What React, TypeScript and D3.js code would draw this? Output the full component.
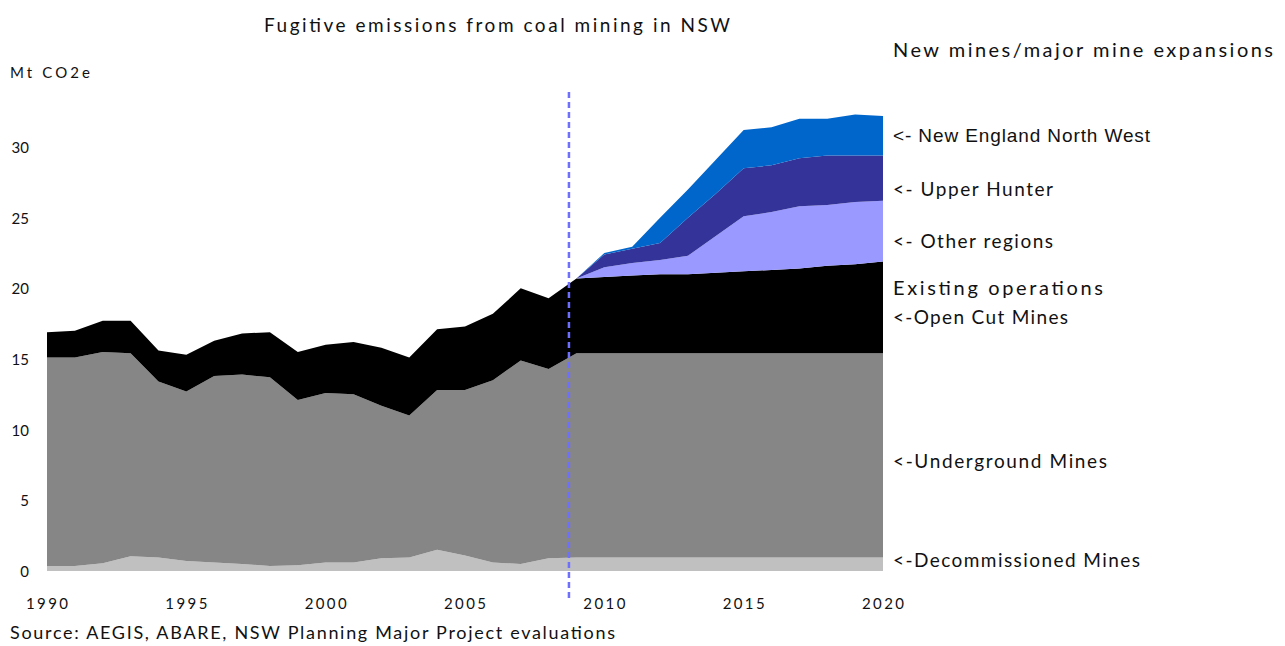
import React from "react";
import * as d3 from "d3";

const years = [1990,1991,1992,1993,1994,1995,1996,1997,1998,1999,2000,2001,2002,2003,2004,2005,2006,2007,2008,2009,2010,2011,2012,2013,2014,2015,2016,2017,2018,2019,2020];
const decommissioned = [0.35,0.35,0.55,1.05,0.95,0.7,0.6,0.5,0.35,0.4,0.6,0.6,0.9,0.95,1.5,1.1,0.6,0.5,0.9,0.95,0.95,0.95,0.95,0.95,0.95,0.95,0.95,0.95,0.95,0.95,0.95];
const underground = [14.75,14.75,14.95,14.35,12.45,12.0,13.2,13.4,13.35,11.7,12.0,11.9,10.8,10.05,11.3,11.7,12.9,14.4,13.4,14.45,14.45,14.45,14.45,14.45,14.45,14.45,14.45,14.45,14.45,14.45,14.45];
const openCut = [1.8,1.9,2.2,2.3,2.2,2.6,2.5,2.9,3.2,3.4,3.4,3.7,4.1,4.1,4.3,4.5,4.7,5.1,5.0,5.3,5.4,5.5,5.6,5.6,5.7,5.8,5.9,6.0,6.2,6.3,6.5];
const otherRegions = [0,0,0,0,0,0,0,0,0,0,0,0,0,0,0,0,0,0,0,0,0.7,0.9,1.0,1.3,2.6,3.9,4.1,4.4,4.3,4.4,4.3];
const upperHunter = [0,0,0,0,0,0,0,0,0,0,0,0,0,0,0,0,0,0,0,0,0.9,1.0,1.2,2.7,3.0,3.4,3.3,3.4,3.5,3.3,3.2];
const newEnglandNW = [0,0,0,0,0,0,0,0,0,0,0,0,0,0,0,0,0,0,0,0,0.1,0.15,1.8,2.0,2.4,2.7,2.7,2.8,2.6,2.9,2.8];

const seriesKeys = ["decommissioned","underground","openCut","otherRegions","upperHunter","newEnglandNW"];
const seriesColors = ["#c0c0c0","#868686","#000000","#9999ff","#333399","#0066cc"];
const futureOnly = [false,false,false,true,true,true];

const yTicks = [0,5,10,15,20,25,30];
const xTicks = [1990,1995,2000,2005,2010,2015,2020];
const forecastStart = 2008.73;

const rows = years.map((yr, i) => ({
  year: yr,
  decommissioned: decommissioned[i],
  underground: underground[i],
  openCut: openCut[i],
  otherRegions: otherRegions[i],
  upperHunter: upperHunter[i],
  newEnglandNW: newEnglandNW[i],
}));

const labels = [
  { text: "New mines/major mine expansions", y: 49, w: 380, size: 20, font: "Lato" },
  { text: "<- New England North West", y: 135, w: 257, size: 19, font: "Liberation Sans" },
  { text: "<- Upper Hunter", y: 188, w: 160, size: 19, font: "Lato" },
  { text: "<- Other regions", y: 240, w: 160, size: 19, font: "Lato" },
  { text: "Existing operations", y: 287, w: 210, size: 20, font: "Lato" },
  { text: "<-Open Cut Mines", y: 316, w: 175, size: 19, font: "Lato" },
  { text: "<-Underground Mines", y: 460, w: 214, size: 19, font: "Lato" },
  { text: "<-Decommissioned Mines", y: 559, w: 247, size: 19, font: "Lato" },
];

export default function App() {
  const W = 1285, H = 646;
  const x = d3.scaleLinear().domain([1990, 2020]).range([47, 883]);
  const y = d3.scaleLinear().domain([0, 30]).range([571, 147]);
  const stacked = d3.stack<any>().keys(seriesKeys)(rows as any);

  return (
    <svg width={W} height={H} style={{ position: "absolute", left: 0, top: 0, background: "#fff" }}
      fontFamily="Lato, 'Open Sans', sans-serif">
      {stacked.map((s, k) => {
        const area = d3.area<any>()
          .defined((d: any) => !futureOnly[k] || d.data.year >= 2009)
          .x((d: any) => x(d.data.year))
          .y0((d: any) => y(d[0]))
          .y1((d: any) => y(d[1]));
        return <path key={seriesKeys[k]} d={area(s as any) || ""} fill={seriesColors[k]} />;
      })}
      <line x1={x(forecastStart)} x2={x(forecastStart)} y1={92} y2={598}
        stroke="#6e6eff" strokeWidth={2.5} strokeDasharray="6,4" />
      <text x={497} y={24} textAnchor="middle" dominantBaseline="central" fontSize={19}
        textLength={466} lengthAdjust="spacing" fill="#111">Fugitive emissions from coal mining in NSW</text>
      <text x={10} y={72} dominantBaseline="central" fontSize={15} textLength={80} lengthAdjust="spacing" fill="#111">Mt CO2e</text>
      {yTicks.map(t => (
        <text key={t} x={29} y={y(t)} textAnchor="end" dominantBaseline="central" fontSize={15} fill="#111">{t}</text>
      ))}
      {xTicks.map(t => (
        <text key={t} x={x(t)} y={603} textAnchor="middle" dominantBaseline="central" fontSize={15}
          textLength={42} lengthAdjust="spacing" fill="#111">{t}</text>
      ))}
      <text x={10} y={632} dominantBaseline="central" fontSize={18} textLength={605} lengthAdjust="spacing" fill="#111">
        Source: AEGIS, ABARE, NSW Planning Major Project evaluations
      </text>
      {labels.map(l => (
        <text key={l.text} x={893} y={l.y} dominantBaseline="central" fontSize={l.size}
          fontFamily={l.font} textLength={l.w} lengthAdjust="spacing" fill="#111">{l.text}</text>
      ))}
    </svg>
  );
}
